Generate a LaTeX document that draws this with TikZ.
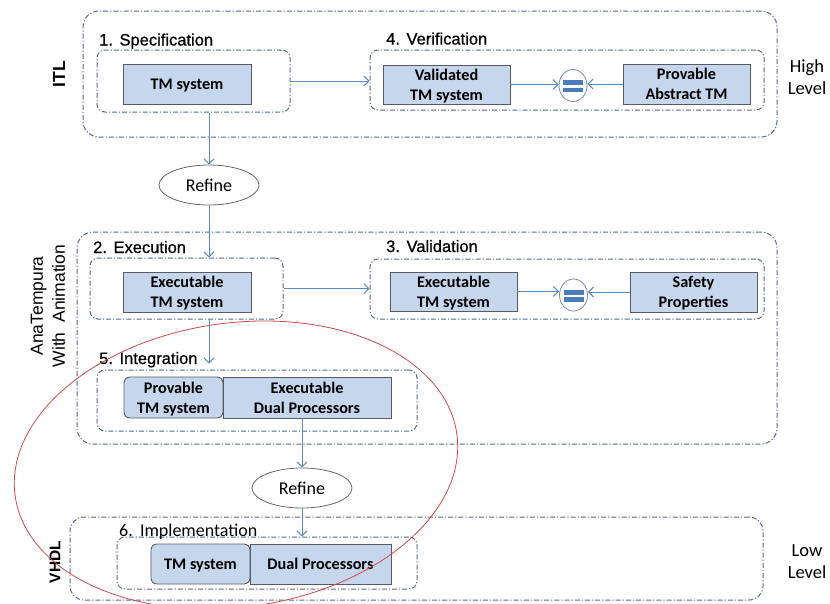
\documentclass[tikz,border=0pt]{standalone}
\usepackage{fontspec}
\setmainfont{Liberation Sans}
\newfontfamily\boxfont{Carlito}
\newfontfamily\titlefont[FakeBold=0.7]{Liberation Sans}
\usetikzlibrary{arrows.meta,shapes.geometric,calc}

\definecolor{boxfill}{HTML}{C6D6EC}
\definecolor{boxline}{HTML}{555B63}
\definecolor{frameline}{HTML}{56698A}
\definecolor{flow}{HTML}{5B89C2}
\definecolor{eqblue}{HTML}{4A7CBC}
\definecolor{eqline}{HTML}{7A8AA6}
\definecolor{ringred}{HTML}{D04848}

\tikzset{
  frame/.style={draw=frameline, line width=1pt,
    dash pattern=on 5pt off 2pt on 1.2pt off 2pt,
    rounded corners=#1, inner sep=0pt, rectangle},
  box/.style={draw=boxline, fill=boxfill, line width=0.9pt, inner sep=0pt,
    align=center, text depth=0pt,
    font=\boxfont\bfseries\fontsize{16.2pt}{20pt}\selectfont},
  title/.style={anchor=base west, inner sep=0pt,
    font=\titlefont\fontsize{16.5pt}{20pt}\selectfont},
  refine/.style={ellipse, draw=gray!80!black, fill=white, line width=0.8pt,
    minimum width=100pt, minimum height=40pt, inner sep=0pt,
    font=\boxfont\fontsize{18pt}{20pt}\selectfont},
  eqsign/.style={ellipse, draw=eqline, fill=white, line width=0.8pt,
    minimum width=28pt, minimum height=32pt, inner sep=0pt,
    path picture={
      \fill[eqblue] ([xshift=-10pt,yshift=0.5pt]path picture bounding box.center)
        rectangle ++(20pt,4.8pt);
      \fill[eqblue] ([xshift=-10pt,yshift=-6.8pt]path picture bounding box.center)
        rectangle ++(20pt,4.8pt);
    }},
  flow/.style={draw=flow, line width=1pt,
    -{Straight Barb[length=5pt,width=10pt,line width=1pt]}},
  side/.style={inner sep=0pt, align=center},
}

\begin{document}
\begin{tikzpicture}[x=1pt,y=-1pt]
\useasboundingbox (0,0) rectangle (830,603);

% level frames
\node[frame=16pt, minimum width=694pt, minimum height=126pt] (itlframe) at (430,74) {};
\node[frame=16pt, minimum width=700pt, minimum height=212pt] (anaframe) at (427,338) {};
\node[frame=14pt, minimum width=693pt, minimum height=83pt] (vhdlframe) at (416.5,558.5) {};

% side labels
\node[side, rotate=90, font=\bfseries\fontsize{17.5pt}{19pt}\selectfont] (itl) at (59,74) {ITL};
\node[side, rotate=90, font=\fontsize{17.5pt}{22pt}\selectfont] (ana) at (48,306) {AnaTempura\\With\ \ Animation};
\node[side, rotate=90, font=\bfseries\fontsize{15.5pt}{18pt}\selectfont] (vhdl) at (55,562) {VHDL};
\node[side, font=\boxfont\fontsize{18.5pt}{22pt}\selectfont] (high) at (807,77) {High\\Level};
\node[side, font=\boxfont\fontsize{18.5pt}{22pt}\selectfont] (low) at (807,562) {Low\\Level};

% stage frames
\node[frame=8pt, minimum width=193pt, minimum height=62pt] (specframe) at (193.5,81) {};
\node[frame=8pt, minimum width=394pt, minimum height=60pt] (verframe) at (567,80) {};
\node[frame=8pt, minimum width=193pt, minimum height=61pt] (execframe) at (186.5,288.5) {};
\node[frame=8pt, minimum width=394pt, minimum height=60pt] (valframe) at (567,289) {};
\node[frame=8pt, minimum width=320pt, minimum height=61pt] (intframe) at (257,400.5) {};
\node[frame=8pt, minimum width=300pt, minimum height=52pt] (implframe) at (267,563) {};

% stage titles
\node[title] (spectitle) at (99,45.5) {1.\hspace{0.4em}Specification};
\node[title] (vertitle) at (386,44.5) {4.\hspace{0.4em}Verification};
\node[title] (exectitle) at (93,253) {2.\hspace{0.4em}Execution};
\node[title] (valtitle) at (386,252) {3.\hspace{0.4em}Validation};
\node[title] (inttitle) at (99,364) {5.\hspace{0.4em}Integration};
\node[title, font=\boxfont\fontsize{18pt}{20pt}\selectfont] (impltitle) at (119,536) {6.\hspace{0.4em}Implementation};

% boxes
\node[box, minimum width=128pt, minimum height=40pt] (spectm) at (187,84) {TM system};
\node[box, minimum width=127pt, minimum height=39pt] (validated) at (446.5,84.5) {Validated\\TM system};
\node[box, minimum width=127pt, minimum height=40pt] (abstract) at (686.5,84) {Provable\\Abstract TM};
\node[eqsign] (eqver) at (573,85.5) {};

\node[box, minimum width=128pt, minimum height=40pt] (exectm) at (187,292) {Executable\\TM system};
\node[box, minimum width=127pt, minimum height=39pt] (valtm) at (453.5,291.5) {Executable\\TM system};
\node[box, minimum width=127pt, minimum height=40pt] (safety) at (693.5,292) {Safety\\Properties};
\node[eqsign] (eqval) at (573.5,295) {};

\node[box, rounded corners=6pt, minimum width=99pt, minimum height=41pt] (provtm) at (173.5,397.5) {Provable\\TM system};
\node[box, minimum width=168pt, minimum height=41pt] (execdual) at (307,397.5) {Executable\\Dual Processors};

\node[box, rounded corners=6pt, minimum width=99pt, minimum height=40pt] (impltm) at (200.5,564) {TM system};
\node[box, minimum width=141pt, minimum height=40pt] (dual) at (320.5,564) {Dual Processors};

% refinement steps
\node[refine] (refineA) at (209,185) {Refine};
\node[refine] (refineB) at (302,488) {Refine};

% connectors
\draw[flow] (specframe.east) -- (specframe.east -| verframe.west);
\draw[flow] (execframe.east) -- (execframe.east -| valframe.west);
\draw[flow] (validated.east) -- (validated.east -| eqver.west);
\draw[flow] (abstract.west) -- (abstract.west -| eqver.east);
\draw[flow] (valtm.east) -- (valtm.east -| eqval.west);
\draw[flow] (safety.west) -- (safety.west -| eqval.east);
\draw[flow] (specframe.south -| refineA.north) -- (refineA.north);
\draw[flow] (refineA.south) -- (refineA.south |- execframe.north);
\draw[flow, shorten >=6pt] (execframe.south -| refineA.north) -- (intframe.north -| refineA.north);
\draw[flow] (execdual.south -| refineB.north) -- (refineB.north);
\draw[flow] (refineB.south) -- (refineB.south |- implframe.north);

% highlighted region
\draw[ringred, line width=0.8pt, rotate around={8:(236,465)}]
  (236,465) ellipse [x radius=223pt, y radius=142pt];
\end{tikzpicture}
\end{document}
